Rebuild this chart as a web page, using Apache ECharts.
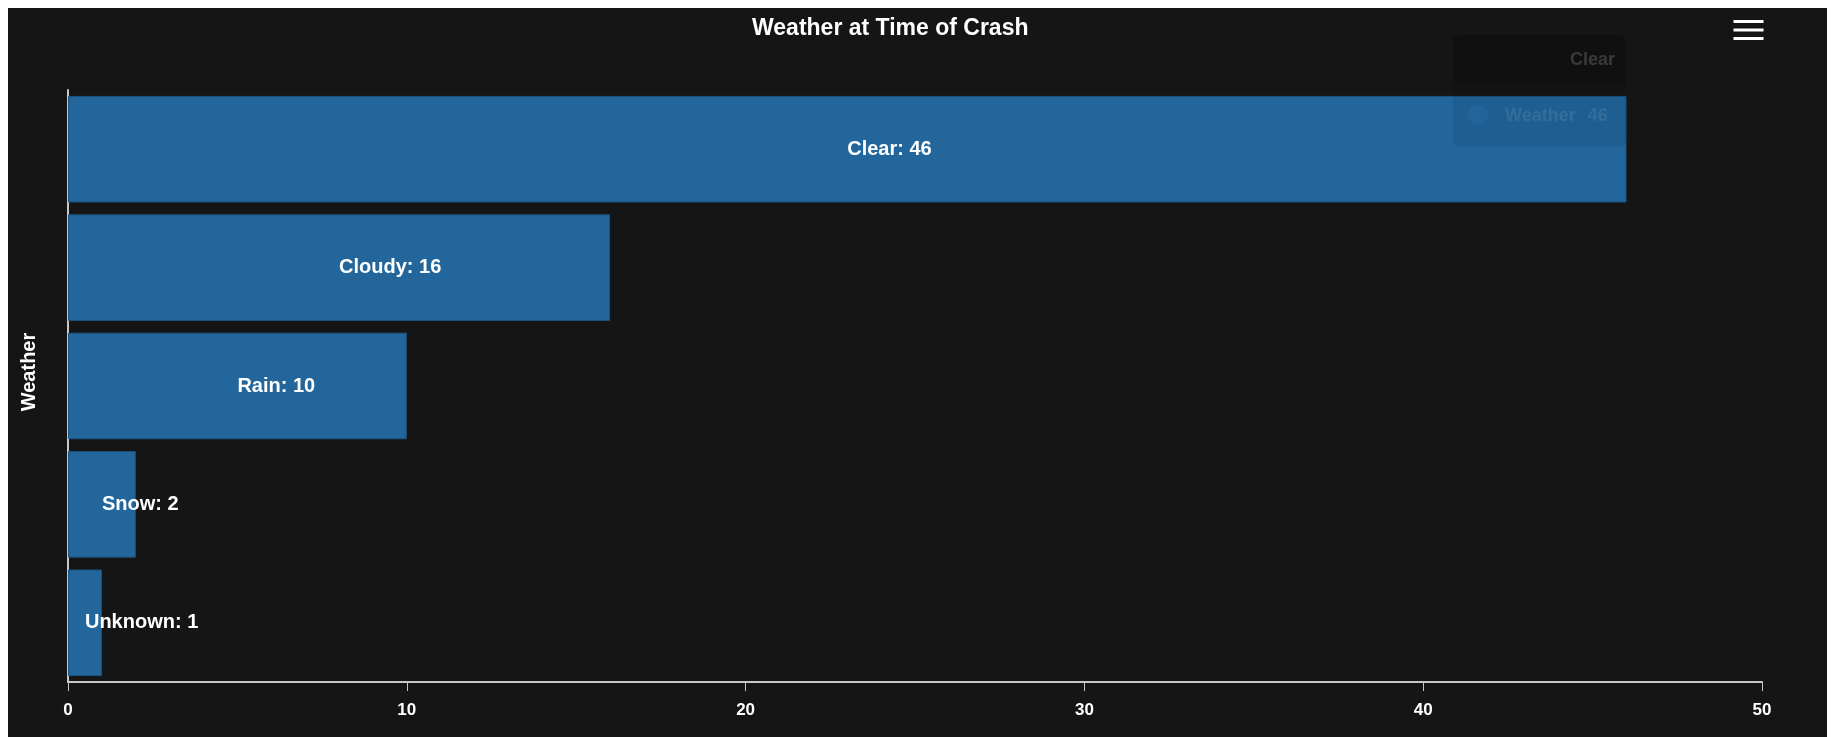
<!DOCTYPE html>
<html>
<head>
<meta charset="utf-8">
<script src="https://cdn.jsdelivr.net/npm/echarts@6/dist/echarts.min.js"></script>
<style>
  body { margin: 8px; overflow: hidden; background: #fff; }
  #chart { width: 1827px; height: 729px; background: #151515; }
</style>
</head>
<body>
<div id="chart"></div>
<script>
const categories = ['Clear', 'Cloudy', 'Rain', 'Snow', 'Unknown']
const counts = [46, 16, 10, 2, 1]
const seriesName = 'Weather'
const xMin = 0
const xMax = 50
const xStep = 10

const font = '"Liberation Sans", Arial, sans-serif'

// the reference shows a half-faded tooltip over the first bar
const tipHtml = (p) => {
  return '<div style="opacity:0.2;width:173px;border-radius:6px;overflow:hidden;font-family:' + font.replace(/"/g, "'") + ';font-weight:bold;font-size:18px;">' +
    '<div style="height:48px;line-height:48px;text-align:right;padding-right:11px;background:rgba(0,0,0,0.95);color:#ccc;">' + p.name + '</div>' +
    '<div style="height:64px;line-height:64px;padding-left:15px;background:rgba(0,0,0,0.35);color:#7a8a99;">' +
      '<span style="display:inline-block;width:20px;height:20px;border-radius:10px;background:' + p.color + ';vertical-align:middle;margin-top:-3px;"></span>' +
      '<span style="margin-left:17px;">' + p.seriesName + '</span>' +
      '<span style="margin-left:12px;">' + p.value + '</span>' +
    '</div></div>'
}

const chart = echarts.init(document.getElementById('chart'))
const option = {
  backgroundColor: '#151515',
  animation: false,
  title: {
    text: 'Weather at Time of Crash',
    left: 739,
    top: 4,
    textStyle: { color: '#fff', fontSize: 23, fontWeight: 'bold', fontFamily: font }
  },
  toolbox: {
    right: 54,
    top: -4,
    itemSize: 30,
    feature: {
      myMenu: {
        show: true,
        title: '',
        icon: 'path://M0,0H32M0,9H32M0,18H32',
        onclick: function () {}
      }
    },
    iconStyle: { borderColor: '#fff', borderWidth: 3 },
    emphasis: { iconStyle: { borderColor: '#fff', textFill: 'transparent' } }
  },
  tooltip: {
    trigger: 'item',
    triggerOn: 'none',
    alwaysShowContent: true,
    transitionDuration: 0,
    padding: 0,
    borderWidth: 0,
    backgroundColor: 'transparent',
    shadowBlur: 0,
    shadowColor: 'transparent',
    extraCssText: 'box-shadow:none;',
    position: [1445, 27],
    formatter: tipHtml
  },
  grid: {
    left: 60,
    right: 73,
    top: 82,
    bottom: 55,
    outerBoundsMode: 'none'
  },
  xAxis: {
    type: 'value',
    min: xMin,
    max: xMax,
    interval: xStep,
    splitLine: { show: false },
    axisLine: { show: true, lineStyle: { color: '#c8c8c8', width: 2 } },
    axisTick: { show: true, length: 9, lineStyle: { color: '#c8c8c8', width: 1 } },
    axisLabel: { color: '#fff', fontSize: 17, fontWeight: 'bold', fontFamily: font, margin: 20 }
  },
  yAxis: {
    type: 'category',
    data: categories,
    inverse: true,
    name: 'Weather',
    nameLocation: 'middle',
    nameGap: 29,
    nameRotate: 90,
    nameTextStyle: { color: '#fff', fontSize: 20, fontWeight: 'bold', fontFamily: font, padding: [0, 0, 0, 28] },
    axisLine: { show: true, lineStyle: { color: '#c8c8c8', width: 2 } },
    axisTick: { show: false },
    axisLabel: { show: false }
  },
  series: [
    {
      name: seriesName,
      type: 'bar',
      data: counts,
      barCategoryGap: '10%',
      itemStyle: { color: '#22669b', borderColor: '#1c5581', borderWidth: 1 },
      label: {
        show: true,
        position: 'inside',
        align: 'left',
        formatter: '{b}: {c}',
        color: '#fff',
        fontSize: 20,
        fontWeight: 'bold',
        fontFamily: font
      },
      emphasis: { disabled: true }
    }
  ]
}
chart.setOption(option)
chart.dispatchAction({ type: 'showTip', seriesIndex: 0, dataIndex: 0 })
</script>
</body>
</html>
